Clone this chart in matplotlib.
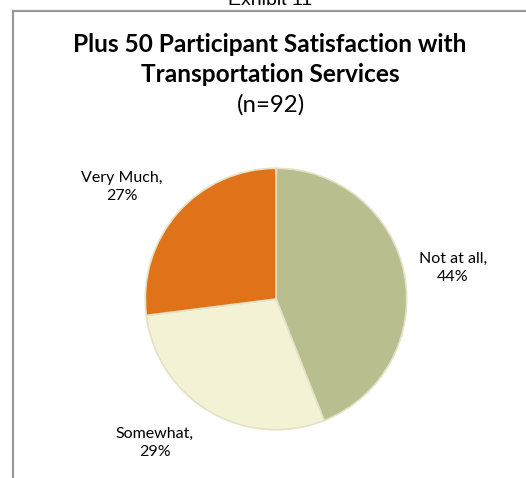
import matplotlib.pyplot as plt
from matplotlib.lines import Line2D

labels = ["Not at all", "Somewhat", "Very Much"]
percents = [44, 29, 27]
colors = ["#B9BE8F", "#F3F2D4", "#E0731A"]
label_pos = [(453, 268), (155, 443), (122, 187)]  # pixel centres of the labels

W, H = 526, 478
fig = plt.figure(figsize=(W / 100, H / 100), dpi=100)
plt.rcParams["font.family"] = ["Lato", "DejaVu Sans"]

# frame of the exhibit
fig.add_artist(Line2D([13 / W, 13 / W], [0, 1 - 11 / H], color="#999999", lw=1.6))
fig.add_artist(Line2D([13 / W, 1], [1 - 11 / H, 1 - 11 / H], color="#999999", lw=1.6))
fig.text(270 / W, 1 - 5 / H, "Exhibit 11", ha="center", va="baseline", fontsize=14,
         family="Liberation Sans")

fig.text(270 / W, 1 - 45 / H, "Plus 50 Participant Satisfaction with", ha="center", va="center",
         fontsize=17.6, fontweight="bold")
fig.text(270 / W, 1 - 75 / H, "Transportation Services", ha="center", va="center",
         fontsize=17.6, fontweight="bold")
fig.text(271 / W, 1 - 105 / H, "(n=92)", ha="center", va="center", fontsize=17.3)

cx, cy, r = 276, 299, 132
ax = fig.add_axes([(cx - r) / W, (H - cy - r) / H, 2 * r / W, 2 * r / H])
ax.pie(percents, colors=colors, startangle=90, counterclock=False,
       wedgeprops=dict(edgecolor="#E4E1C4", linewidth=1.2))
ax.set_xlim(-1.01, 1.01)
ax.set_ylim(-1.01, 1.01)
ax.set_aspect("equal")
ax.axis("off")

for lab, p, (x, y) in zip(labels, percents, label_pos):
    fig.text(x / W, 1 - y / H, f"{lab},\n{p}%", ha="center", va="center", fontsize=11.5,
             linespacing=1.45)

fig.savefig("out.png", dpi=100)
